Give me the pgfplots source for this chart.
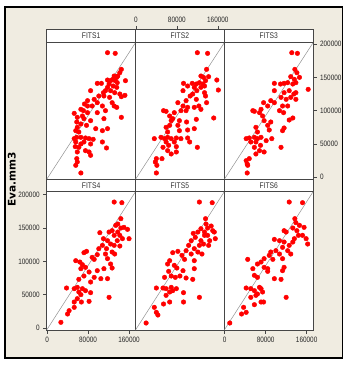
\documentclass[border=0pt]{standalone}
\usepackage{fontspec}
\setmainfont{Liberation Sans}
\newfontfamily\cond[FakeStretch=0.82]{Liberation Sans}
\newfontfamily\dv{DejaVu Sans}
\usepackage{pgfplots}
\usepackage{pgfplotstable}
\pgfplotsset{compat=1.18}
\definecolor{beige}{RGB}{240,236,225}
\definecolor{frameg}{RGB}{70,70,70}

\pgfplotstableread{
x y
118000 187000
133000 186000
145000 162000
142000 157000
138000 152000
131000 152000
136000 150000
128000 147000
133000 145000
124000 145000
118000 146000
137000 142000
153000 145000
98000 141000
106000 141000
121000 140000
129000 137000
136000 135000
118000 135000
114000 130000
124000 130000
110000 127000
132000 127000
85000 130000
111000 122000
101000 122000
142000 125000
152000 123000
145000 121000
122000 120000
92000 117000
79000 115000
98000 112000
127000 112000
108000 107000
131000 107000
136000 105000
73000 110000
79000 107000
88000 107000
66000 102000
71000 100000
114000 100000
98000 97000
79000 97000
69000 92000
53000 96000
59000 90000
72000 88000
85000 85000
111000 88000
145000 90000
58000 83000
66000 80000
77000 78000
95000 73000
108000 70000
118000 73000
59000 75000
56000 70000
62000 68000
53000 58000
58000 60000
66000 60000
75000 59000
82000 58000
90000 57000
56000 53000
66000 50000
72000 53000
85000 50000
108000 53000
55000 46000
62000 45000
75000 40000
82000 38000
116000 44000
59000 38000
85000 33000
58000 28000
59000 23000
56000 18000
66000 6500
}\fitsA

\pgfplotstableread{
x y
120000 187000
140000 186000
138000 162000
127000 152000
132000 150000
142000 151000
136000 145000
124000 142000
131000 140000
118000 140000
110000 141000
134000 137000
158000 146000
161000 131000
93000 141000
101000 137000
114000 135000
92000 130000
127000 135000
119000 130000
134000 127000
136000 122000
111000 125000
106000 122000
82000 112000
98000 115000
118000 117000
138000 112000
92000 107000
101000 105000
114000 105000
123000 107000
127000 102000
88000 100000
98000 100000
75000 97000
54000 100000
59000 99000
66000 92000
72000 88000
69000 85000
85000 85000
99000 83000
118000 87000
152000 89000
59000 75000
66000 78000
82000 78000
85000 70000
101000 71000
114000 73000
62000 68000
56000 58000
62000 60000
69000 58000
79000 59000
88000 58000
101000 59000
36000 58000
49000 60000
59000 53000
64000 48000
75000 53000
79000 46000
105000 53000
120000 45000
53000 45000
62000 40000
69000 35000
79000 38000
51000 28000
40000 28000
38000 23000
41000 18000
40000 6500
}\fitsB

\pgfplotstableread{
x y
131000 187000
142000 186000
137000 162000
141000 157000
129000 151000
136000 147000
146000 150000
123000 142000
133000 140000
139000 142000
116000 141000
97000 141000
109000 140000
163000 132000
97000 130000
116000 127000
126000 130000
135000 125000
139000 127000
110000 120000
120000 117000
129000 120000
139000 117000
90000 115000
97000 112000
76000 112000
113000 107000
123000 107000
84000 107000
71000 102000
107000 100000
115000 97000
133000 89000
126000 86000
55000 100000
58000 99000
68000 97000
74000 92000
77000 85000
90000 83000
61000 75000
84000 78000
87000 71000
113000 70000
116000 74000
64000 68000
42000 58000
48000 59000
58000 60000
64000 58000
71000 60000
81000 55000
92000 58000
51000 53000
61000 53000
70000 48000
58000 45000
68000 40000
61000 35000
77000 38000
110000 45000
48000 28000
42000 25000
44000 20000
45000 18000
44000 6500
}\fitsC

\pgfplotstableread{
x y
131000 189000
146000 188000
144000 164000
138000 156000
134000 154000
144000 150000
150000 151000
157000 148000
127000 146000
138000 144000
121000 144000
103000 143000
110000 134000
131000 139000
142000 139000
137000 131000
147000 134000
160000 134000
118000 131000
124000 126000
131000 124000
142000 123000
108000 124000
116000 119000
127000 114000
132000 111000
101000 119000
77000 115000
72000 113000
98000 110000
114000 111000
88000 106000
92000 103000
118000 104000
124000 96000
127000 90000
56000 101000
64000 99000
69000 95000
75000 91000
66000 89000
98000 86000
111000 89000
82000 84000
62000 73000
72000 78000
92000 76000
105000 74000
118000 74000
85000 69000
38000 60000
53000 59000
59000 61000
69000 59000
75000 56000
62000 54000
66000 50000
85000 53000
59000 44000
53000 39000
67000 39000
82000 40000
121000 46000
53000 31000
43000 26000
40000 21000
27000 8500
}\fitsD

\pgfplotstableread{
x y
124000 189000
149000 188000
136000 164000
137000 156000
140000 150000
147000 153000
150000 146000
153000 144000
127000 149000
134000 144000
121000 144000
112000 142000
116000 136000
134000 139000
140000 139000
144000 131000
155000 134000
108000 131000
127000 131000
132000 126000
124000 124000
142000 124000
103000 124000
114000 119000
121000 114000
129000 111000
98000 116000
82000 115000
72000 113000
90000 109000
108000 111000
95000 103000
66000 101000
62000 96000
75000 94000
80000 90000
92000 86000
114000 101000
114000 89000
56000 76000
64000 85000
69000 78000
77000 76000
86000 78000
98000 75000
111000 73000
40000 60000
53000 60000
59000 59000
69000 61000
79000 59000
66000 54000
59000 49000
72000 56000
93000 53000
124000 46000
54000 36000
66000 39000
93000 39000
36000 31000
40000 23500
43000 19500
20000 7500
}\fitsE

\pgfplotstableread{
x y
126000 189000
152000 188000
137000 164000
139000 158000
116000 146000
120000 144000
133000 150000
141000 146000
146000 154000
155000 151000
144000 139000
152000 139000
136000 134000
159000 134000
162000 126000
97000 133000
107000 131000
116000 129000
126000 124000
133000 129000
113000 121000
123000 116000
129000 111000
90000 114000
100000 116000
107000 111000
87000 109000
94000 103000
113000 104000
77000 104000
71000 99000
64000 96000
77000 91000
84000 89000
84000 85000
116000 91000
113000 86000
45000 103000
55000 89000
58000 79000
64000 76000
97000 74000
110000 73000
42000 60000
51000 59000
58000 56000
68000 61000
71000 59000
74000 54000
64000 51000
51000 46000
61000 49000
71000 39000
76000 39000
58000 35000
120000 46000
37000 31000
42000 23500
33000 21000
10000 7500
}\fitsF

\pgfplotsset{
  panel/.style={scale only axis, width=88.8pt, xmin=-700, xmax=172600, ymin=-3000,
    axis line style={frameg, line width=0.8pt},
    xtick=\empty, ytick=\empty, tick align=outside, major tick length=3.5pt,
    tick style={frameg, line width=0.5pt},
    ticklabel style={font=\cond\fontsize{7.8}{8}\selectfont, text=black!85},
    /pgf/number format/assume math mode=true, /pgf/number format/1000 sep={},
    /pgf/number format/fixed, scaled ticks=false,
    axis background/.style={fill=white}, anchor=south west},
  toprow/.style={panel, height=136.6pt, ymax=202000},
  botrow/.style={panel, height=138.3pt, ymax=204500},
  pts/.style={only marks, mark=*, mark size=2.3pt, color=red, mark options={draw=red, fill=red}},
  diag/.style={gray!85, line width=0.5pt},
}
\newcommand\strip[3]{%
  \draw[frameg, line width=0.8pt, fill=white] (#1.north west) rectangle ([yshift=#3]#1.north east);
  \node[font=\cond\fontsize{8.2}{9}\selectfont, text=black!80] at ([yshift=#3/2]#1.north) {#2};}

\begin{document}
\begin{tikzpicture}
\useasboundingbox (0pt,0pt) rectangle (351pt,368pt);
\fill[white] (0pt,0pt) rectangle (351pt,368pt);
\draw[black, line width=1.4pt, fill=beige] (5.2pt,361pt) rectangle (342.7pt,10.2pt);

\begin{axis}[toprow, name=p1, at={(46.7pt,188.7pt)}]
\addplot[diag] coordinates {(-700,-3000) (172600,202000)};
\addplot[pts] table {\fitsA};
\end{axis}

\begin{axis}[toprow, name=p2, at={(135.5pt,188.7pt)},
  xtick={0,80000,160000}, xtick pos=right, xticklabel pos=right,
  xtick style={yshift=13.4pt}, x tick label style={yshift=13.4pt}]
\addplot[diag] coordinates {(-700,-3000) (172600,202000)};
\addplot[pts] table {\fitsB};
\end{axis}

\begin{axis}[toprow, name=p3, at={(224.3pt,188.7pt)},
  ytick={0,50000,100000,150000,200000}, ytick pos=right, yticklabel pos=right]
\addplot[diag] coordinates {(-700,-3000) (172600,202000)};
\addplot[pts] table {\fitsC};
\end{axis}

\begin{axis}[botrow, name=p4, at={(46.7pt,38pt)},
  ytick={0,50000,100000,150000,200000}, ytick pos=left,
  xtick={0,80000,160000}, xtick pos=left]
\addplot[diag] coordinates {(-700,-3000) (172600,204500)};
\addplot[pts] table {\fitsD};
\end{axis}

\begin{axis}[botrow, name=p5, at={(135.5pt,38pt)}]
\addplot[diag] coordinates {(-700,-3000) (172600,204500)};
\addplot[pts] table {\fitsE};
\end{axis}

\begin{axis}[botrow, name=p6, at={(224.3pt,38pt)},
  xtick={0,80000,160000}, xtick pos=left]
\addplot[diag] coordinates {(-700,-3000) (172600,204500)};
\addplot[pts] table {\fitsF};
\end{axis}

\strip{p1}{FITS1}{13.4pt}
\strip{p2}{FITS2}{13.4pt}
\strip{p3}{FITS3}{13.4pt}
\strip{p4}{FITS4}{12.4pt}
\strip{p5}{FITS5}{12.4pt}
\strip{p6}{FITS6}{12.4pt}

\node[rotate=90, font=\dv\bfseries\fontsize{10.5}{12}\selectfont] at (11.7pt,188.5pt) {Eva.mm3};
\end{tikzpicture}
\end{document}
